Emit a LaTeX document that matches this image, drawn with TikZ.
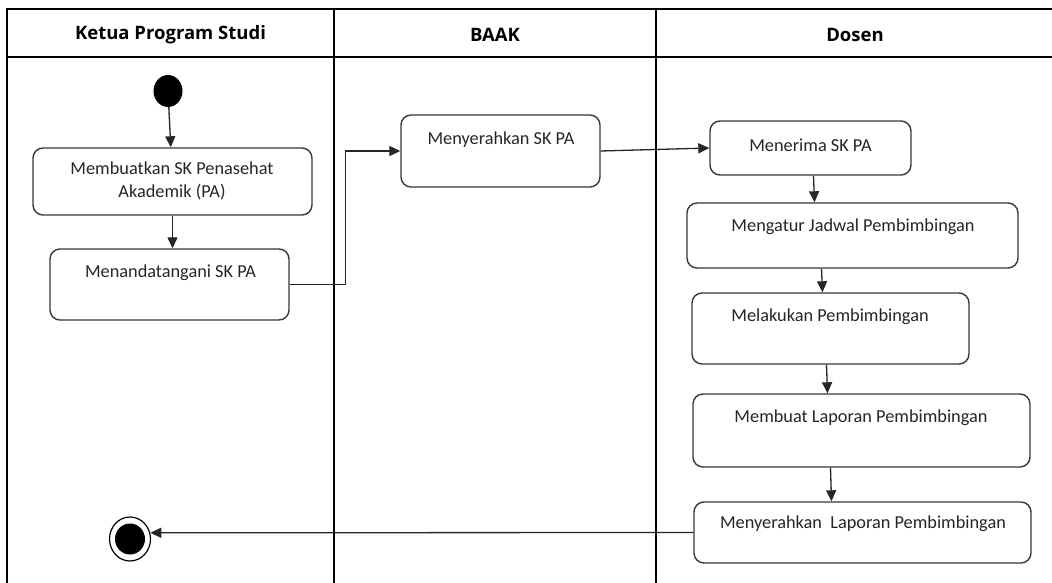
\documentclass[tikz,border=0pt]{standalone}
\usepackage{fontspec}
\setmainfont{Carlito}
\newfontfamily\hdrfont{Open Sans}
\usetikzlibrary{arrows.meta,shapes.geometric,calc}
\begin{document}
\begin{tikzpicture}[x=1pt,y=-1pt,
  lane/.style={line width=2.6pt, draw=black},
  hdr/.style={font=\hdrfont\bfseries\fontsize{18.5}{22}\selectfont, text=black, inner sep=0pt},
  act/.style={draw=black!78, line width=1.4pt, rounded corners=10pt, inner sep=0pt, fill=white},
  txt/.style={font=\fontsize{18.3}{23}\selectfont, text=black!85, inner sep=0pt, align=center},
  arr/.style={draw=black!85, line width=1.3pt, -{Triangle[length=11pt,width=10pt]}},
]
\useasboundingbox (0,0) rectangle (1052,583);
\clip (0,0) rectangle (1052,583);
\fill[white] (0,0) rectangle (1052,583);

% swimlanes
\draw[lane] (1070,9) -- (7,9) -- (7,600);
\draw[lane] (7,57) -- (1070,57);
\draw[lane] (334,9) -- (334,600);
\draw[lane] (656,9) -- (656,600);

\node[hdr] (h1) at (170.5,35) {Ketua Program Studi};
\node[hdr] (h2) at (495,35) {BAAK};
\node[hdr] (h3) at (855,35) {Dosen};

% start / end
\node[ellipse, fill=black, minimum width=29pt, minimum height=32pt, inner sep=0pt] (s) at (168,91) {};
\node[ellipse, draw=black, line width=1.2pt, fill=white, minimum width=41pt, minimum height=44pt, inner sep=0pt] (e) at (130,539) {};
\node[ellipse, fill=black, minimum width=30pt, minimum height=31pt, inner sep=0pt] (ec) at (130,539) {};

% activities
\node[act, minimum width=279pt, minimum height=67pt] (b1) at (172.5,181.5) {};
\node[act, minimum width=239pt, minimum height=71pt] (b2) at (169.5,284.5) {};
\node[act, minimum width=199pt, minimum height=72pt] (b3) at (500.5,151) {};
\node[act, minimum width=201pt, minimum height=54pt] (b4) at (810.5,148) {};
\node[act, minimum width=331pt, minimum height=65pt] (b5) at (852.5,235.5) {};
\node[act, minimum width=277pt, minimum height=71pt] (b6) at (830.5,328.5) {};
\node[act, minimum width=337pt, minimum height=73pt] (b7) at (861.5,430.5) {};
\node[act, minimum width=337pt, minimum height=61pt] (b8) at (862.5,532.5) {};

\node[txt] (t1) at (172,181) {Membuatkan SK Penasehat\\Akademik (PA)};
\node[txt] (t2) at (170.5,273) {Menandatangani SK PA};
\node[txt] (t3) at (501,140) {Menyerahkan SK PA};
\node[txt] (t4) at (810.5,145) {Menerima SK PA};
\node[txt] (t5) at (853,227) {Mengatur Jadwal Pembimbingan};
\node[txt] (t6) at (830,317) {Melakukan Pembimbingan};
\node[txt] (t7) at (861,418) {Membuat Laporan Pembimbingan};
\node[txt] (t8) at (863,524) {Menyerahkan\ \ Laporan Pembimbingan};

% connectors
\draw[arr] (s) -- (b1);
\draw[arr] (b1.south) -- (b1.south |- b2.north);
\draw[arr] (b2.east) -- ++(56,0) |- (b3.west);
\draw[arr] (b3.east) -- (b4.west);
\draw[arr] ($(b4.south)+(3,0)$) -- ($(b4.south |- b5.north)+(4,0)$);
\draw[arr] ($(b5.south)+(-31,0)$) -- ($(b5.south |- b6.north)+(-30,0)$);
\draw[arr] ($(b6.south)+(-4,0)$) -- ($(b6.south |- b7.north)+(-3,0)$);
\draw[arr] ($(b7.south)+(-31,0)$) -- ($(b7.south |- b8.north)+(-30,0)$);
\draw[arr] (b8.west) -- (e.17);
\end{tikzpicture}
\end{document}
